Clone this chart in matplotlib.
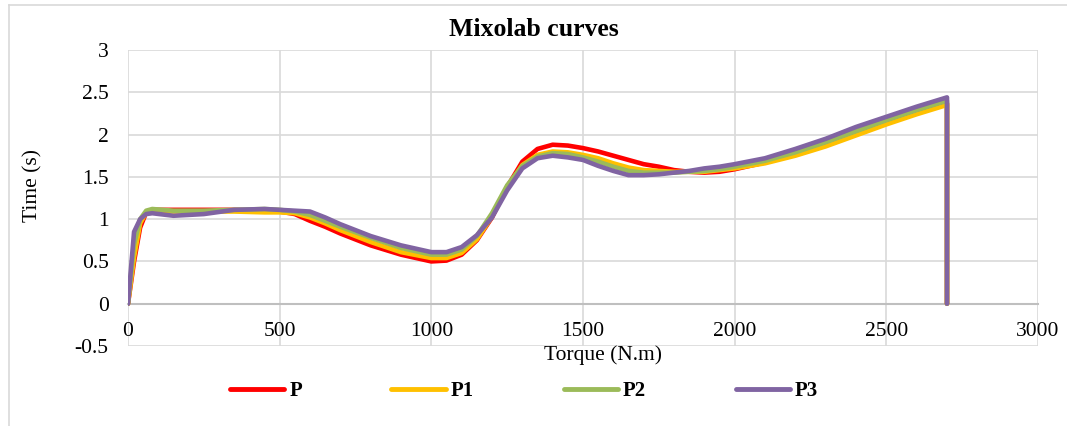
import matplotlib
matplotlib.use("Agg")
import matplotlib.pyplot as plt
from matplotlib.lines import Line2D

plt.rcParams['font.family'] = ['Liberation Serif', 'DejaVu Serif']

torque = [0, 20, 40, 60, 80, 150, 250, 350, 450, 500, 550, 600, 650, 700, 800, 900,
          1000, 1050, 1100, 1150, 1200, 1250, 1300, 1350, 1400, 1450, 1500, 1550, 1600,
          1650, 1700, 1750, 1800, 1850, 1900, 1950, 2000, 2100, 2200, 2300, 2400, 2500,
          2600, 2700, 2700]

P = [0, 0.5, 0.9, 1.08, 1.11, 1.11, 1.11, 1.11, 1.10, 1.09, 1.06, 0.98, 0.91, 0.83, 0.69, 0.58,
     0.50, 0.51, 0.58, 0.75, 1.02, 1.38, 1.68, 1.83, 1.88, 1.87, 1.84, 1.80, 1.75,
     1.70, 1.65, 1.62, 1.58, 1.56, 1.55, 1.56, 1.59, 1.67, 1.76, 1.88, 2.02, 2.15,
     2.27, 2.37, 0]
P1 = [0, 0.55, 0.95, 1.08, 1.10, 1.09, 1.09, 1.09, 1.08, 1.08, 1.07, 1.02, 0.95, 0.87, 0.73, 0.61,
      0.54, 0.54, 0.60, 0.76, 1.03, 1.38, 1.64, 1.76, 1.80, 1.79, 1.76, 1.72, 1.66,
      1.61, 1.58, 1.57, 1.56, 1.56, 1.56, 1.58, 1.60, 1.66, 1.75, 1.86, 1.99, 2.12,
      2.24, 2.35, 0]
P2 = [0, 0.7, 1.0, 1.10, 1.12, 1.10, 1.10, 1.11, 1.12, 1.11, 1.09, 1.05, 0.98, 0.91, 0.78, 0.66,
      0.58, 0.58, 0.64, 0.80, 1.07, 1.40, 1.63, 1.74, 1.78, 1.77, 1.73, 1.68, 1.62,
      1.57, 1.55, 1.55, 1.55, 1.56, 1.57, 1.59, 1.62, 1.69, 1.79, 1.91, 2.04, 2.17,
      2.29, 2.40, 0]
P3 = [0, 0.85, 1.0, 1.06, 1.07, 1.04, 1.06, 1.11, 1.12, 1.11, 1.10, 1.09, 1.02, 0.94, 0.80, 0.69,
      0.61, 0.61, 0.67, 0.81, 1.02, 1.34, 1.60, 1.72, 1.75, 1.73, 1.70, 1.63, 1.57,
      1.52, 1.52, 1.53, 1.55, 1.57, 1.60, 1.62, 1.65, 1.72, 1.83, 1.95, 2.09, 2.21,
      2.33, 2.44, 0]

series_names = ["P", "P1", "P2", "P3"]
series_vals = [P, P1, P2, P3]
colors = ["#FF0000", "#FFC000", "#9BBB59", "#8064A2"]

fig = plt.figure(figsize=(10.67, 4.26), dpi=100)
W, H = 1067, 426
ax = fig.add_axes([128 / W, 1 - 346 / H, (1038 - 128) / W, (346 - 50) / H])

for name, vals, c in zip(series_names, series_vals, colors):
    ax.plot(torque, vals, color=c, lw=3.3, label=name, solid_capstyle='round',
            solid_joinstyle='round')

ax.set_xlim(0, 3000)
ax.set_ylim(-0.5, 3)
ax.set_xticks(range(0, 3001, 500))
ax.set_yticks([-0.5, 0, 0.5, 1, 1.5, 2, 2.5, 3])
ax.set_yticklabels(["-0.5", "0", "0.5", "1", "1.5", "2", "2.5", "3"])
ax.grid(True, color="#D9D9D9", lw=1.2)
ax.set_axisbelow(True)
for s in ["top", "right", "left"]:
    ax.spines[s].set_visible(False)
ax.spines["bottom"].set_position(("data", 0))
ax.spines["bottom"].set_color("#BFBFBF")
ax.spines["bottom"].set_linewidth(1.5)
ax.spines["bottom"].set_zorder(1)
ax.tick_params(axis="both", length=0, labelsize=15.5, colors="black")
ax.tick_params(axis="x", pad=13)
ax.tick_params(axis="y", pad=14)

fig.text(534 / W, 1 - 30 / H, "Mixolab curves", ha="center", va="center",
         fontsize=18.5, fontweight="bold")
fig.text(33 / W, 1 - 186 / H, "Time (s)", ha="center", va="center",
         rotation=90, fontsize=15.5)
fig.text(603 / W, 1 - 355 / H, "Torque (N.m)", ha="center", va="center",
         fontsize=15.5)

leg = fig.legend(loc="center", bbox_to_anchor=(524 / W, 1 - 391 / H), ncol=4,
                 frameon=False, prop={"weight": "bold", "size": 15},
                 handlelength=2.6, handletextpad=0.25, columnspacing=4.3)
for h in leg.get_lines():
    h.set_linewidth(3.5)

fig.add_artist(Line2D([9 / W, 9 / W], [0, 1 - 5 / H], color="#D9D9D9", lw=1.2,
                      transform=fig.transFigure))
fig.add_artist(Line2D([9 / W, 1], [1 - 5 / H, 1 - 5 / H], color="#D9D9D9", lw=1.2,
                      transform=fig.transFigure))

fig.savefig("out.png", dpi=100)
